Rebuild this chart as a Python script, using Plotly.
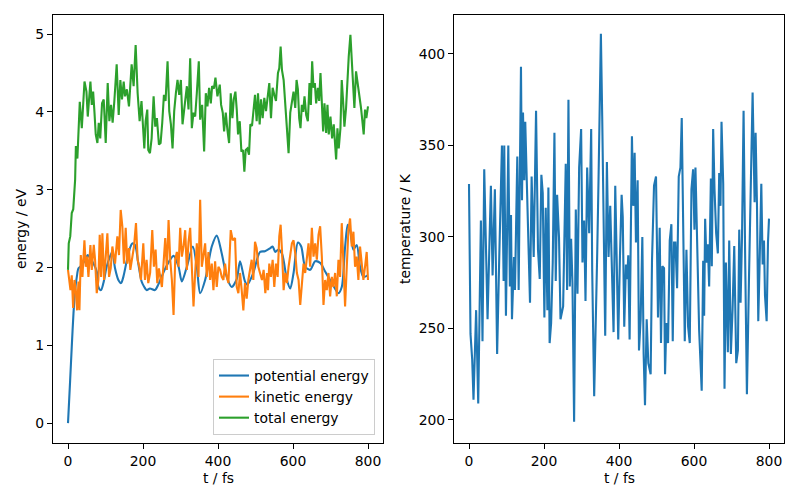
import plotly.graph_objects as go

# ---------------- data ----------------
pot_t = [0,5.7,10,14.6,19,23.5,28,37,45.6,52.7,
         59,68,76.7,81,88,94.4,103,112,118,125.4,
         134.3,141.4,147.6,156.4,165.3,171.5,178.6,187.5,196.3,203.4,
         209.6,218.5,231.8,240.7,246,263.7,281.5,294.8,303.6,316.9,
         332.9,343.5,352.4,365.7,383.4,396.7,410,423.3,436.6,449.9,
         458.8,472,478.3,494,512,525,539.5,545.7,552.8,561,
         570.5,583.8,592.7,601.5,613,621.9,632.5,645.8,659.1,672.4,
         685.7,703.5,721.2,730,739,746,752.2,761,770,778.8,
         787.7,799]
pot_E = [0.0,0.55,0.98,1.41,1.71,1.88,1.99,2.03,2.1,2.16,
         2.12,2.05,1.95,1.75,1.71,1.8,2.01,2.14,2.2,1.99,
         1.84,1.8,1.88,2.08,2.25,2.31,2.29,2.05,1.82,1.75,
         1.71,1.73,1.71,1.78,1.84,2.03,2.15,2.01,1.82,2.01,
         2.27,2.01,1.67,1.84,2.27,2.41,2.18,1.88,1.75,1.85,
         2.08,1.82,1.78,1.93,2.2,2.21,2.25,2.27,2.2,2.23,
         2.18,1.84,1.73,1.93,2.32,2.27,2.01,1.97,2.08,2.06,
         1.95,1.8,1.67,1.75,2.27,2.55,2.48,2.23,2.29,2.01,
         1.88,1.9]

kin_t = [0,3,6.6,10,13.7,17.3,20.8,24.3,27.9,30.5,
         34.1,38.5,43.8,47.4,51,54.5,59.8,63.4,68.7,72.2,
         76.7,81,84.6,88.2,91.7,96.2,100.6,105,109.5,113.9,
         118.3,125.4,131.6,136,140.5,144.9,149.3,153.8,158.2,162.6,
         166.2,171.5,176,181.3,185.7,190.1,194.5,200.8,205.2,209.6,
         214,219,224.7,229.1,233.6,238,242.4,
         246,250.4,254.8,259.3,263.7,268.2,272.6,277,281.5,285.9,
         290.3,294.8,299.2,303.6,308,312.5,316.9,321.4,325.8,330.2,
         334.7,339.1,343.5,348,352.4,356.8,361.2,365.7,370.1,374.5,
         379,383.4,387.8,392.3,396.7,401.1,405.6,410,414.4,418.9,
         423.3,427.7,434,439.3,445.5,449.9,454.3,458.8,463.2,467.6,
         472,476.5,480.9,485.4,489.8,494.2,498.7,503.1,507.5,512,
         517.3,521.7,526.2,530.6,533.3,536.8,541.2,545.7,550.1,554.5,
         559,563.4,567,570.5,575,579.4,583.8,588.2,592.7,597.1,
         601.5,606,610.4,614.8,619.3,623.7,628.1,632.5,637,641.4,
         645.8,650.3,654.7,659.1,663.6,668,672.4,676.9,681.3,685.7,
         690.2,694.6,699,703.5,707.9,712.3,716.8,721.2,725.6,730,
         734.5,738.9,743.4,747.8,752.2,756.7,761.1,765.5,770,774.4,
         778.8,783.3,787.7,792.1,796.5,800]
kin_E = [1.97,1.84,1.71,1.9,1.48,1.84,1.71,1.45,1.82,1.45,
         2.16,1.88,2.35,2.01,2.14,1.88,2.29,1.97,2.29,2.1,
         1.67,1.84,2.42,1.88,2.44,1.84,2.18,2.44,1.88,1.99,
         2.27,2.05,2.4,2.16,2.74,2.53,2.05,2.51,2.05,2.25,
         1.97,2.12,2.27,2.57,2.1,2.01,1.84,2.31,1.84,2.1,
         1.8,1.93,2.48,2.01,2.23,1.8,1.99,
         1.88,1.75,2.05,2.38,1.97,2.61,2.1,1.84,1.39,2.1,
         2.2,2.01,2.51,2.14,2.27,2.48,1.97,2.33,2.51,2.1,
         1.5,1.93,2.31,1.88,2.87,2.01,2.14,2.31,1.88,2.2,
         1.84,2.05,1.71,2.08,1.75,2.01,1.97,1.88,1.84,2.05,
         1.88,1.8,2.48,2.35,2.38,1.75,1.67,1.93,1.71,1.45,
         1.8,1.6,1.84,1.97,2.1,1.84,2.33,2.25,2.01,1.93,
         1.84,1.97,1.67,1.93,1.71,2.05,1.88,2.1,1.75,2.05,
         1.88,2.4,2.55,2.23,1.71,1.93,1.8,2.01,2.14,2.31,
         2.35,2.18,1.93,1.84,1.52,1.84,2.05,1.93,2.14,2.31,
         2.01,2.51,2.14,2.31,2.1,2.42,2.53,2.14,1.52,1.84,
         1.71,1.93,1.63,1.88,1.75,1.93,1.63,2.1,1.88,2.57,
         2.05,1.5,2.01,2.48,2.63,2.27,2.46,2.01,2.14,1.84,
         2.27,2.05,1.84,2.01,2.2,1.84]

tot_t = [0,2,6,10,14,19,21,25,31.4,36.8,
         44,49.2,52.7,56,59.8,63.4,67,70.4,74,78.4,
         82,86,90.8,95.3,100.6,105.9,110.3,114.8,119,123.6,
         129.8,135.2,139.6,144,148.5,152,157,162.6,166,169.7,
         175,180.4,185.7,191,
         196,200,203.5,207,211.4,214,218.5,223,228.3,232.7,
         237.1,242.5,246.9,251.3,255.8,260.2,265.5,270,274.4,278.8,
         283.2,287.7,292.1,296.5,301,305.4,309.8,313.4,317,321.4,
         325.8,330.2,334.7,339.1,343.5,348.8,352.4,357.7,363,367.5,
         371.9,376.3,380.8,384.3,389,393.2,398.5,
         404.7,408.3,412.7,416.3,420.7,425.1,429.6,434,438.4,442,
         446.4,450,453.5,458,462.4,466.8,470.3,473.9,478.3,482.7,
         486.3,490.7,495.2,498.7,503.1,506.7,511.1,514.7,519.1,523.5,
         528,532.4,536.8,541.3,545.7,550.1,554.6,559.9,563.4,567,
         570.5,575,579.4,583.8,588.2,592.7,597.1,601.5,606,609.5,
         613,616.5,620,623.6,627.2,630.7,635.2,639.6,644,647.6,
         651.1,654.7,658.2,661.8,666.2,669.7,673.3,676.8,680.4,683.9,
         688.4,691.9,695.4,699.9,704.3,708.7,712.3,715,718.5,722,
         726.5,730,733.6,737.1,741.5,745.1,748.6,753.1,756.6,760.2,
         763.7,768.1,772.6,777,781.4,785,788.5,792.1,795.6,800]
tot_E = [1.97,2.31,2.4,2.7,2.75,3.13,3.56,3.4,4.13,3.79,
         4.39,4.26,3.94,4.2,4.39,4.09,4.26,4.01,3.71,3.6,
         3.86,3.66,4.11,4.16,3.6,4.37,3.88,4.09,3.86,4.14,
         4.61,3.96,4.41,4.16,4.39,4.2,4.29,4.07,4.37,4.61,
         4.33,4.86,4.24,3.88,
         4.14,3.84,3.53,3.88,4.03,3.51,3.47,3.66,4.2,3.81,
         3.92,3.58,3.6,3.86,4.22,4.14,4.65,4.01,3.84,3.53,
         4.01,4.24,4.41,4.22,4.41,3.84,4.07,4.18,4.33,4.03,
         4.69,3.79,3.99,3.94,4.24,4.65,3.9,4.09,3.49,4.24,
         4.07,4.31,4.11,4.33,4.3,4.44,4.2,
         4.35,4.09,3.99,3.75,3.99,3.77,3.6,4.24,3.92,4.16,
         4.26,4.03,3.71,3.88,3.49,3.51,3.23,3.51,3.53,3.45,
         3.84,3.82,4.01,4.22,3.88,4.24,3.84,4.16,3.92,4.18,
         4.01,4.16,4.37,3.92,4.31,4.22,4.14,4.5,4.56,4.84,
         4.54,4.41,4.07,3.88,3.47,3.99,4.14,4.26,4.05,4.41,
         4.29,3.92,3.79,4.09,4.0,4.2,3.96,3.88,4.37,4.09,
         4.65,4.31,4.37,4.11,4.31,4.14,4.5,4.09,3.75,4.11,
         3.73,4.09,3.71,3.94,3.66,3.84,3.49,3.39,3.79,3.53,
         3.79,4.41,4.14,3.81,4.05,4.48,4.71,4.99,4.67,4.41,
         4.05,4.52,4.37,4.2,4.05,3.88,3.71,4.03,3.92,4.07]

temp_t = [0,1,2,4,8.5,12,19,24.6,31.7,36,
          40.6,49.5,58.4,62.9,69,75,80.7,87.8,92.3,94,
          98.5,104.8,109,112,114.6,120,122.6,128.8,132.4,138.6,
          141.3,144,147.6,150,154.7,162.7,167,172.5,178.8,184,
          188.6,193,
          196.6,201,204.6,209,211.7,215,219,223.3,227.8,231.3,
          235,240,244,251,258,261.6,265.2,268.8,272.3,275.9,
          280.3,284.8,289.3,293.7,299,302.6,307,310.7,315.1,320.5,
          325.8,328.5,333.8,337.4,341.9,345.4,351.7,355.2,359.7,363.2,
          367.7,372.1,376.6,381,385.5,390,394.4,398,402.5,407,
          410,414,418.5,422,424.7,428.3,434.5,438,441.7,445.2,
          449.7,453.3,457.7,462.2,465.7,469.3,473.8,478.2,484.4,488,
          493.4,498.7,504,508.5,512,515.6,520.1,522.8,526.3,530.8,
          535.3,539.7,543.3,546.8,550.4,554.9,559.3,563.8,567.3,570.9,
          575.4,579.8,584.3,588.7,593.2,597.6,601.2,603.9,608.3,613.7,
          620.5,
          624.5,627,629.7,633.3,636.9,640.4,645,647.5,651.1,654.7,
          659.1,663.6,667.2,670.7,673.4,677.9,681.4,685,690.3,693.9,
          698.3,702.8,707.3,712.6,717.1,720.6,724.2,728,732.2,736.7,
          741.1,746.5,751,756.3,761.6,764.3,767.9,771.4,775,779.5,
          783,786.6,789.3,793.7,797.3,800]
temp_K = [329,304,278,247,233,211,260,209,309,243,
          337,255,328,279,326,236,289,350,276,350,
          257,350,273,312,255,289,271,344,271,393,
          320,368,331,363,326,264,333,289,369,293,
          277,334,
          324,256,316,260,327,242,253,286,357,276,
          323,300,255,262,340,271,375,273,299,275,
          199,315,269,338,359,286,309,265,338,302,
          359,282,213,244,291,331,411,366,280,246,
          341,289,317,273,248,328,286,244,289,323,
          311,251,285,277,290,244,355,317,346,297,
          331,238,255,300,236,208,255,231,225,287,
          328,333,256,305,242,284,283,225,253,242,
          298,307,243,297,297,272,333,338,365,317,
          243,293,251,242,326,337,304,338,293,249,
          216,
          287,257,310,286,296,273,332,284,359,326,
          302,291,335,317,363,329,217,286,237,298,
          236,260,295,231,238,304,264,300,369,284,
          214,276,317,379,319,357,318,254,286,329,
          285,298,268,254,297,310]

assert len(pot_t) == len(pot_E)
assert len(kin_t) == len(kin_E)
assert len(tot_t) == len(tot_E)
assert len(temp_t) == len(temp_K)

x_ticks = [0, 200, 400, 600, 800]
energy_ticks = [0, 1, 2, 3, 4, 5]
temp_ticks = [200, 250, 300, 350, 400]

series_names = ["potential energy", "kinetic energy", "total energy"]
colors = ["#1f77b4", "#ff7f0e", "#2ca02c"]

# ---------------- figure ----------------
FONT = "DejaVu Sans"
FS = 13.9
LW = 2.1

# The page body has an 8 px margin; the figure is sized so it fits without scrolling.
W, H, OFF = 784, 484, 8


def fx(px):   # screen x pixel -> paper fraction
    return (px - OFF) / W


def fy(py):   # screen y pixel -> paper fraction (from bottom)
    return (H + OFF - py) / H


fig = go.Figure()
fig.add_trace(go.Scatter(x=pot_t, y=pot_E, mode="lines", name=series_names[0],
                         line=dict(color=colors[0], width=LW, shape="spline", smoothing=0.8),
                         xaxis="x", yaxis="y"))
fig.add_trace(go.Scatter(x=kin_t, y=kin_E, mode="lines", name=series_names[1],
                         line=dict(color=colors[1], width=LW), xaxis="x", yaxis="y"))
fig.add_trace(go.Scatter(x=tot_t, y=tot_E, mode="lines", name=series_names[2],
                         line=dict(color=colors[2], width=LW), xaxis="x", yaxis="y"))
fig.add_trace(go.Scatter(x=temp_t, y=temp_K, mode="lines", showlegend=False,
                         line=dict(color=colors[0], width=LW), xaxis="x2", yaxis="y2"))

axis_common = dict(showline=True, linecolor="black", linewidth=1.1, mirror=True,
                   ticks="outside", ticklen=5, tickwidth=1.1, tickcolor="black",
                   showgrid=False, zeroline=False,
                   tickfont=dict(family=FONT, size=FS, color="black"))

label_common = dict(xref="paper", yref="paper", showarrow=False,
                    xanchor="center", yanchor="middle",
                    font=dict(family=FONT, size=FS, color="black"))

fig.update_layout(
    width=W, height=H,
    margin=dict(l=0, r=0, t=0, b=0),
    paper_bgcolor="white", plot_bgcolor="white",
    font=dict(family=FONT, size=FS, color="black"),
    xaxis=dict(domain=[fx(53), fx(383)], range=[-40, 840], tickvals=x_ticks,
               anchor="y", **axis_common),
    yaxis=dict(domain=[fy(443), fy(15)], range=[-0.255, 5.245], tickvals=energy_ticks,
               anchor="x", **axis_common),
    xaxis2=dict(domain=[fx(454), fx(784)], range=[-40, 840], tickvals=x_ticks,
                anchor="y2", **axis_common),
    yaxis2=dict(domain=[fy(443), fy(15)], range=[187.4, 421.3], tickvals=temp_ticks,
                anchor="x2", **axis_common),
    legend=dict(x=fx(375), y=fy(435), xanchor="right", yanchor="bottom",
                bgcolor="rgba(255,255,255,0.8)", bordercolor="#cccccc", borderwidth=1,
                font=dict(family=FONT, size=FS, color="black"),
                itemwidth=30, tracegroupgap=0),
    annotations=[
        dict(text="t / fs", x=fx(218), y=fy(478), **label_common),
        dict(text="t / fs", x=fx(619), y=fy(478), **label_common),
        dict(text="energy / eV", x=fx(21), y=fy(229), textangle=-90, **label_common),
        dict(text="temperature / K", x=fx(405), y=fy(229), textangle=-90, **label_common),
    ],
)

fig.write_html("out.html")
